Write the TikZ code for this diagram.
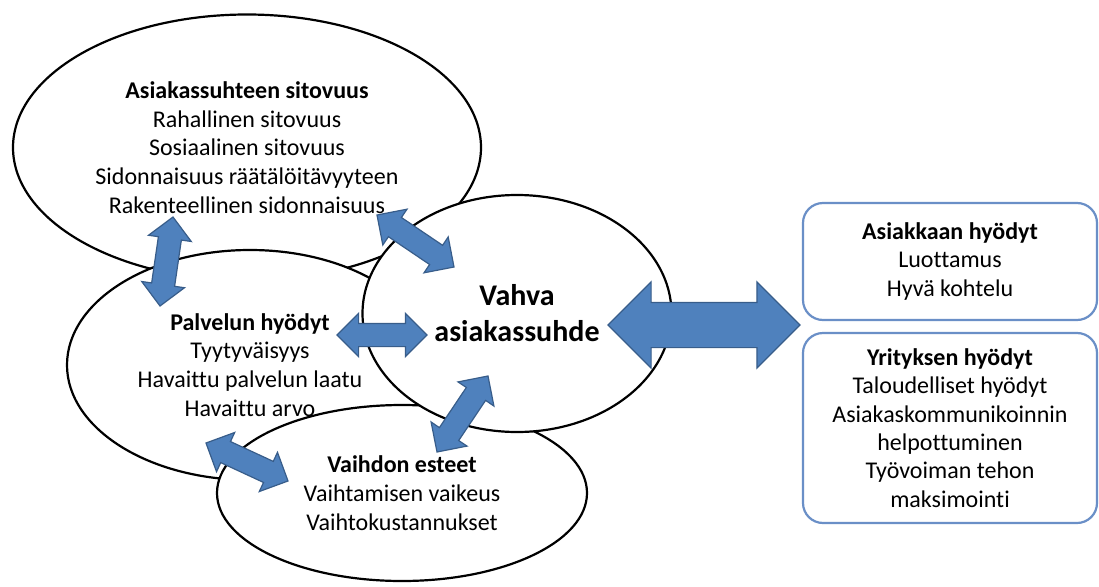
\documentclass[tikz,border=0pt]{standalone}
\usepackage{fontspec}
\setmainfont{Carlito}[Ligatures=NoCommon]
\usetikzlibrary{shapes.geometric,shapes.arrows,calc}
\definecolor{arblue}{HTML}{4F81BD}
\definecolor{ardark}{HTML}{385D8A}
\definecolor{bxblue}{HTML}{6A8FC7}

% block double arrow between two named points
\newcommand{\bothway}[3][]{%
  \path let \p1=(#2), \p2=(#3),
    \n1={atan2(\y2-\y1,\x2-\x1)}, \n2={veclen(\x2-\x1,\y2-\y1)} in
    node[link,#1,rotate=\n1,minimum height=\n2] at ($(#2)!0.5!(#3)$) {};}

\begin{document}
\begin{tikzpicture}[x=1pt,y=-1pt,
  bubble/.style={ellipse,draw=black,line width=2.2pt,fill=white,align=center,
    inner sep=0pt,font=\fontsize{24}{28.7}\selectfont},
  core/.style={bubble,font=\bfseries\fontsize{30}{36}\selectfont},
  gain/.style={draw=bxblue,line width=2.2pt,rounded corners=20pt,fill=white,
    align=center,minimum width=294pt,inner sep=0pt,font=\fontsize{24}{28.4}\selectfont},
  link/.style={double arrow,draw=ardark,fill=arblue,line width=1.2pt,inner xsep=0pt,
    inner ysep=11pt,minimum width=42pt,double arrow head extend=10pt},
  biglink/.style={inner ysep=22pt,minimum width=85pt,double arrow head extend=20.5pt}]
  \useasboundingbox (0,0) rectangle (1099,586);
  \node[bubble,minimum width=468pt,minimum height=266pt] (bond) at (247,147.5)
    {\textbf{Asiakassuhteen sitovuus}\\Rahallinen sitovuus\\Sosiaalinen sitovuus\\
     Sidonnaisuus räätälöitävyyteen\\Rakenteellinen sidonnaisuus};
  \node[bubble,minimum width=366pt,minimum height=230pt] (serv) at (250,365)
    {\textbf{Palvelun hyödyt}\\Tyytyväisyys\\Havaittu palvelun laatu\\Havaittu arvo};
  \node[bubble,minimum width=370pt,minimum height=176pt] (barr) at (402,493)
    {\textbf{Vaihdon esteet}\\Vaihtamisen vaikeus\\Vaihtokustannukset};
  \node[core,minimum width=309pt,minimum height=237pt] (rel) at (517,313.5)
    {Vahva\\asiakassuhde};
  \node[gain,minimum height=117pt] (cust) at (950,261.5)
    {\textbf{Asiakkaan hyödyt}\\Luottamus\\Hyvä kohtelu};
  \node[gain,minimum height=190pt] (firm) at (950,428)
    {\textbf{Yrityksen hyödyt}\\Taloudelliset hyödyt\\Asiakaskommunikoinnin\\
     helpottuminen\\Työvoiman tehon\\maksimointi};
  \coordinate (bond-s) at (173,217);
  \coordinate (serv-n) at (160,306);
  \coordinate (bond-e) at (377,215);
  \coordinate (rel-nw) at (454,267);
  \coordinate (serv-e) at (337,335);
  \coordinate (rel-w)  at (427,335);
  \coordinate (rel-sw) at (488,376);
  \coordinate (barr-n) at (437,452);
  \coordinate (serv-s) at (206,443);
  \coordinate (barr-w) at (288,481);
  \coordinate (rel-e)  at (608,325);
  \coordinate (gain-w) at (800,325);
  \bothway{bond-s}{serv-n}
  \bothway{bond-e}{rel-nw}
  \bothway{serv-e}{rel-w}
  \bothway{rel-sw}{barr-n}
  \bothway{serv-s}{barr-w}
  \bothway[biglink]{rel-e}{gain-w}
\end{tikzpicture}
\end{document}
